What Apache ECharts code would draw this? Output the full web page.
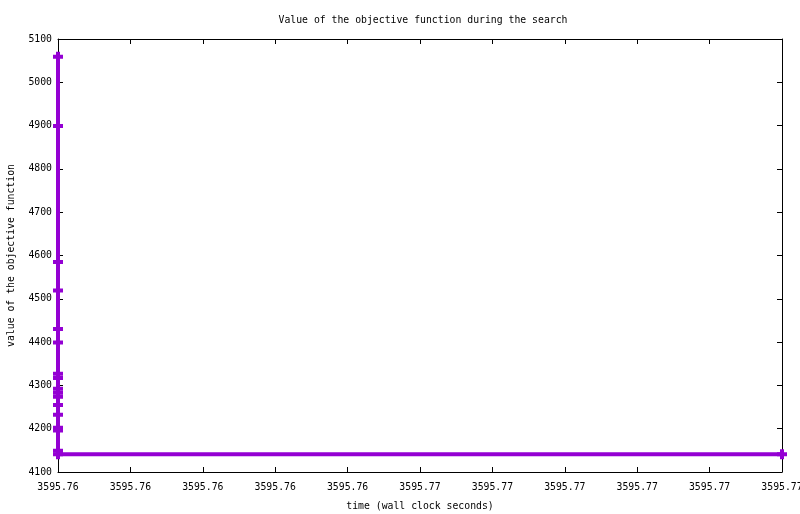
<!DOCTYPE html>
<html>
<head>
<meta charset="utf-8">
<script src="https://cdn.jsdelivr.net/npm/echarts@6/dist/echarts.min.js"></script>
<style>
html,body{margin:0;padding:0;background:#fff;}
#c{width:800px;height:514px;}
</style>
</head>
<body>
<div id="c"></div>
<script>
// time (wall clock seconds) of each improvement and objective value
var times = [3595.757, 3595.757, 3595.757, 3595.757, 3595.757, 3595.757, 3595.757, 3595.757,
             3595.757, 3595.757, 3595.757, 3595.757, 3595.757, 3595.757, 3595.757, 3595.757,
             3595.757, 3595.774];
var values = [5059, 4899, 4585, 4519, 4430, 4399, 4327, 4317,
              4292, 4283, 4274, 4255, 4232, 4202, 4196, 4149,
              4141, 4141];
var xMin = 3595.757, xMax = 3595.774, xStep = 0.0017;
var yMin = 4100, yMax = 5100, yStep = 100;
var titleText = 'Value of the objective function during the search';
var xName = 'time (wall clock seconds)';
var yName = 'value of the objective function';

var FONT = 'DejaVu Sans Mono';
var FS = 9.8;
var color = '#9400D3';
var plus = 'path://M3,0H7V3H10V7H7V10H3V7H0V3H3Z';

var data = times.map(function (t, i) { return [t, values[i]]; });

var chart = echarts.init(document.getElementById('c'), null, {renderer: 'canvas'});
function axisBase(pos, showLabel) {
  return {
    position: pos,
    axisLine: {show: true, onZero: false, lineStyle: {color: '#000', width: 1}},
    axisTick: {show: true, inside: true, length: 5, lineStyle: {color: '#000', width: 1}},
    splitLine: {show: false},
    axisLabel: {show: showLabel, color: '#000', fontFamily: FONT, fontSize: FS, interval: 0, hideOverlap: false}
  };
}
var xb = axisBase('bottom', true);
xb.type = 'value'; xb.min = xMin; xb.max = xMax; xb.interval = xStep;
xb.axisLabel.formatter = function (v) { return v.toFixed(2); };
xb.axisLabel.margin = 10;
xb.axisLabel.showMaxLabel = true; xb.axisLabel.showMinLabel = true;
xb.name = xName; xb.nameLocation = 'middle'; xb.nameGap = 29;
xb.nameTextStyle = {color: '#000', fontFamily: FONT, fontSize: FS};
var xt = axisBase('top', false);
xt.type = 'value'; xt.min = xMin; xt.max = xMax; xt.interval = xStep;

var yl = axisBase('left', true);
yl.type = 'value'; yl.min = yMin; yl.max = yMax; yl.interval = yStep;
yl.axisLabel.margin = 6;
yl.axisLabel.formatter = function (v) { return String(v); };
yl.name = yName; yl.nameLocation = 'middle'; yl.nameGap = 42; yl.nameRotate = 90;
yl.nameTextStyle = {color: '#000', fontFamily: FONT, fontSize: FS};
var yr = axisBase('right', false);
yr.type = 'value'; yr.min = yMin; yr.max = yMax; yr.interval = yStep;

chart.setOption({
  animation: false,
  backgroundColor: '#fff',
  title: {
    text: titleText, left: 418, top: 10, textAlign: 'center',
    textStyle: {color: '#000', fontFamily: FONT, fontSize: FS, fontWeight: 'normal'}
  },
  grid: {left: 58, right: 18, top: 39, bottom: 42, containLabel: false, outerBoundsMode: 'none'},
  xAxis: [xb, xt],
  yAxis: [yl, yr],
  series: [{
    type: 'line',
    xAxisIndex: 0, yAxisIndex: 0,
    data: data,
    clip: false,
    symbol: plus,
    symbolSize: 10,
    showAllSymbol: true,
    lineStyle: {color: color, width: 4},
    itemStyle: {color: color},
    emphasis: {disabled: true}
  }]
});
</script>
</body>
</html>
